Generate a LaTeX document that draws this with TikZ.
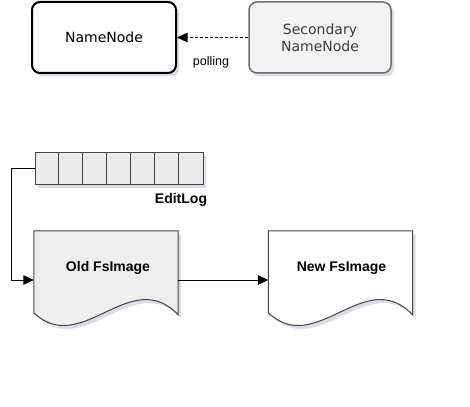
\documentclass[tikz,border=0pt]{standalone}
\usepackage{fontspec}
\setmainfont{Liberation Sans}
\newfontfamily\dejavu{DejaVu Sans}
\usetikzlibrary{arrows.meta,shadows,calc}
\definecolor{boxgray}{HTML}{F3F3F3}
\definecolor{docgray}{HTML}{EEEEEE}
\definecolor{cellgray}{HTML}{EBEBEB}
\definecolor{edgegray}{HTML}{6E6E6E}
\definecolor{linegray}{HTML}{444444}
\definecolor{txtgray}{HTML}{3A3A3A}
\definecolor{shadcol}{HTML}{5A6480}
\tikzset{
  shad/.style={drop shadow={shadow xshift=3pt, shadow yshift=-3.5pt, opacity=0.22, fill=shadcol}},
  mainbox/.style={draw=black, line width=2pt, rounded corners=8pt, fill=white, minimum width=144pt, minimum height=71pt, inner sep=0pt, font=\dejavu\fontsize{14}{16.6}\selectfont, align=center, shad},
  secbox/.style={draw=edgegray, line width=1.5pt, rounded corners=8pt, fill=boxgray, minimum width=142pt, minimum height=71pt, inner sep=0pt, font=\dejavu\fontsize{14}{16.6}\selectfont, text=txtgray, align=center, shad},
  docframe/.style={minimum width=144pt, minimum height=98pt, inner sep=0pt},
  docline/.style={draw=linegray, line width=1pt, shad},
  doclabel/.style={font=\bfseries\fontsize{14}{16}\selectfont, inner sep=0pt},
  logbox/.style={draw=linegray, line width=1pt, fill=cellgray, minimum width=168pt, minimum height=32pt, inner sep=0pt, shad},
  conn/.style={line width=1pt, -{Triangle[length=10.5pt,width=9.5pt]}},
  smalllabel/.style={font=\fontsize{12.5}{14}\selectfont, inner sep=0pt},
}
\begin{document}
\begin{tikzpicture}[x=1pt,y=-1pt]
\path[use as bounding box] (0,0) rectangle (470,406);
% top row
\node[mainbox] (nn) at (104,37.5) {NameNode};
\node[secbox] (snn) at (320,37.5) {Secondary\\NameNode};
\draw[conn, dash pattern=on 3pt off 2pt, line width=1.2pt] (snn.west) -- (nn.east);
\node[smalllabel] (poll) at (211,62) {polling};
% edit log
\node[logbox] (log) at (119,168) {};
\foreach \k in {1,...,6}{
  \draw[draw=linegray, line width=1pt] ($(log.north west)+(24*\k,0)$) -- ($(log.south west)+(24*\k,0)$);
}
\node[doclabel] (loglabel) at (181,200) {EditLog};
% documents
\node[docframe] (old) at (106,280) {};
\node[docframe] (new) at (340.5,280) {};
\draw[docline, fill=docgray] (old.north west) -- (old.north east) -- ++(0,84)
  .. controls +(-48,-50) and +(48,45) .. ($(old.north west)+(0,82)$) -- cycle;
\draw[docline, fill=white] (new.north west) -- (new.north east) -- ++(0,84)
  .. controls +(-48,-50) and +(48,45) .. ($(new.north west)+(0,82)$) -- cycle;
\node[doclabel] (oldtext) at ($(old.center)+(2,-12)$) {Old FsImage};
\node[doclabel] (newtext) at ($(new.center)+(1,-12)$) {New FsImage};
% connectors
\draw[conn] (log.west) -- ++(-23.5,0) |- (old.west);
\draw[conn] (old.east) -- (new.west);
\end{tikzpicture}
\end{document}
